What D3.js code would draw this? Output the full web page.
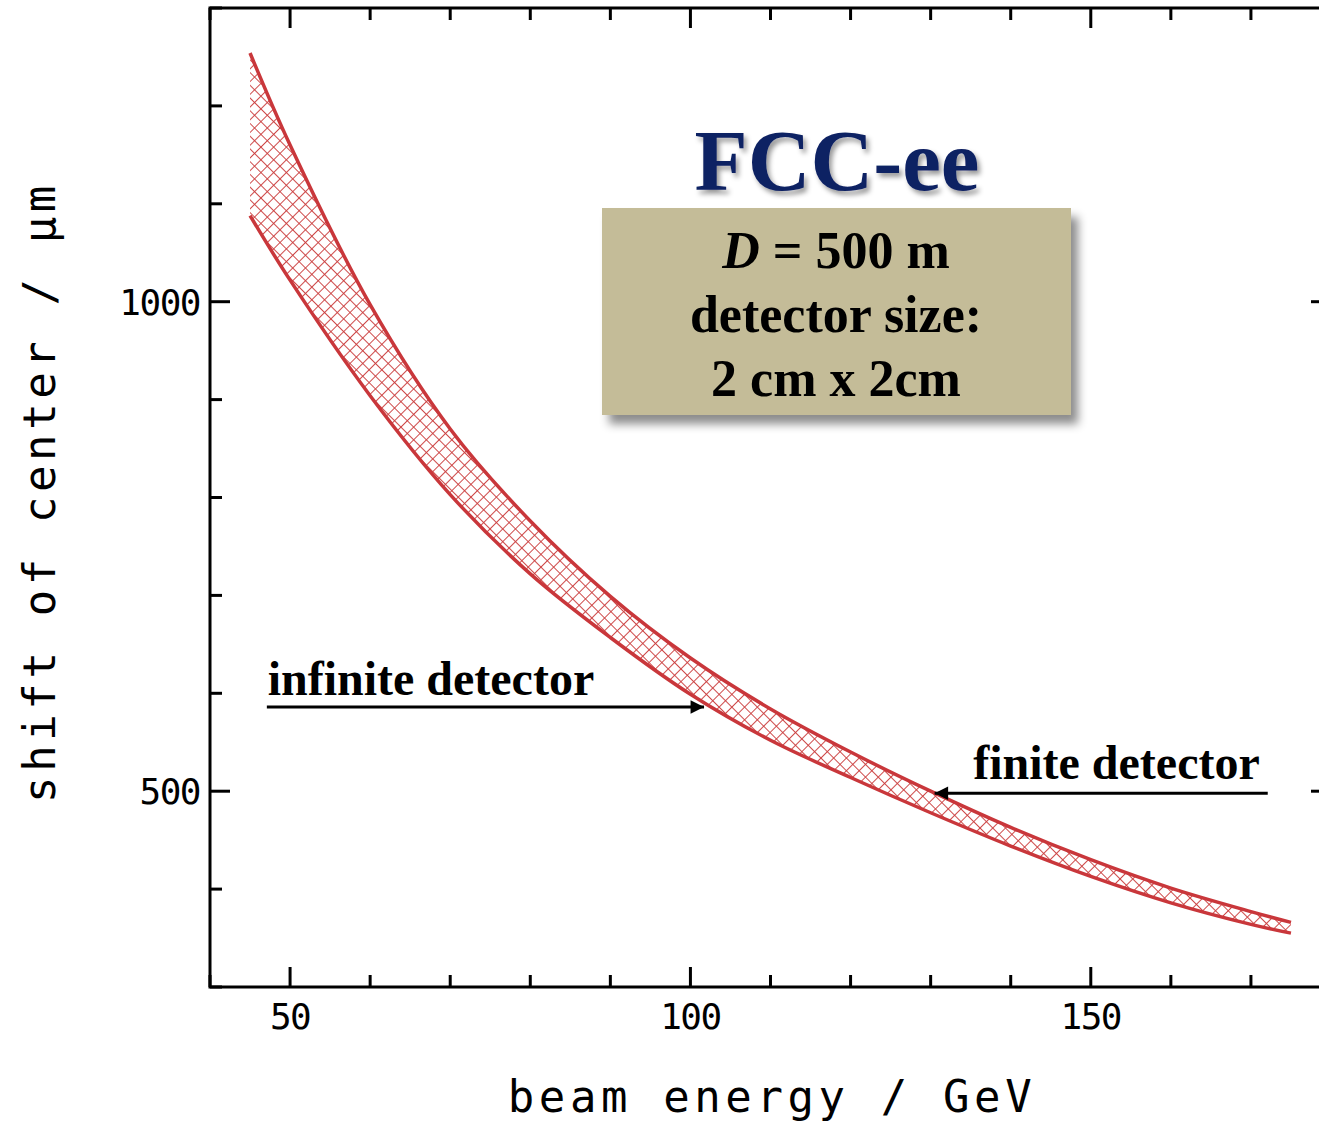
<!DOCTYPE html>
<html>
<head>
<meta charset="utf-8">
<script src="https://cdn.jsdelivr.net/npm/d3@7"></script>
<style>
  html, body { margin: 0; padding: 0; background: #fff; }
  svg { display: block; }
  .tick-label, .axis-title { font-family: "DejaVu Sans Mono", monospace; fill: #000; }
  .serif { font-family: "Liberation Serif", "Times New Roman", serif; font-weight: bold; }
</style>
</head>
<body>
<div id="chart"></div>
<script>
// beam energy (GeV) and shift of the centre (µm)
const energy = [45, 50, 60, 70, 80, 90, 100, 110, 120, 130, 140, 150, 160, 170, 175];
const finiteShift = [1254, 1160, 997, 870, 776, 699, 636, 584, 540, 500, 463, 430, 401, 377, 366];
const infiniteShift = [1088, 1022, 904, 803, 722, 657, 599, 552, 514, 478, 444, 413, 386, 364, 355];

const xMajor = [50, 100, 150];
const xMinor = [40, 60, 70, 80, 90, 110, 120, 130, 140, 160, 170, 180];
const yMajor = [500, 1000];
const yMinor = [300, 400, 600, 700, 800, 900, 1100, 1200, 1300];

const boxLines = ['D = 500 m', 'detector size:', '2 cm x 2cm'];

const width = 1319, height = 1121;
const plot = { left: 210, right: 1331, top: 8, bottom: 987 };

const x = d3.scaleLinear().domain([40, 180]).range([plot.left, plot.right]);
const y = d3.scaleLinear().domain([300, 1300]).range([plot.bottom, plot.top]);

const svg = d3.select('#chart').append('svg')
  .attr('width', width)
  .attr('height', height);

const defs = svg.append('defs');

const hatch = defs.append('pattern')
  .attr('id', 'hatch')
  .attr('patternUnits', 'userSpaceOnUse')
  .attr('width', 9)
  .attr('height', 9)
  .attr('patternTransform', 'rotate(45)');
hatch.append('line').attr('x1', 0).attr('y1', 0).attr('x2', 0).attr('y2', 9)
  .attr('stroke', '#cc4040').attr('stroke-width', 1.9);
hatch.append('line').attr('x1', 0).attr('y1', 0).attr('x2', 9).attr('y2', 0)
  .attr('stroke', '#cc4040').attr('stroke-width', 1.9);

const boxShadow = defs.append('filter').attr('id', 'boxShadow')
  .attr('x', '-10%').attr('y', '-10%').attr('width', '130%').attr('height', '140%');
boxShadow.append('feDropShadow')
  .attr('dx', 7).attr('dy', 9).attr('stdDeviation', 5)
  .attr('flood-color', '#000').attr('flood-opacity', 0.45);

const textShadow = defs.append('filter').attr('id', 'textShadow')
  .attr('x', '-10%').attr('y', '-20%').attr('width', '130%').attr('height', '150%');
textShadow.append('feDropShadow')
  .attr('dx', 3).attr('dy', 4).attr('stdDeviation', 2.5)
  .attr('flood-color', '#000').attr('flood-opacity', 0.4);

defs.append('marker')
  .attr('id', 'arrowHead')
  .attr('viewBox', '0 0 10 10')
  .attr('refX', 10).attr('refY', 5)
  .attr('markerWidth', 5.5).attr('markerHeight', 4.5)
  .attr('markerUnits', 'strokeWidth')
  .attr('orient', 'auto')
  .append('path').attr('d', 'M0,0L10,5L0,10Z').attr('fill', '#000');

// band between the two curves
const rows = energy.map((e, i) => ({ e, hi: finiteShift[i], lo: infiniteShift[i] }));
const curve = d3.curveCatmullRom.alpha(0.5);

const band = d3.area()
  .x(d => x(d.e))
  .y0(d => y(d.lo))
  .y1(d => y(d.hi))
  .curve(curve);

svg.append('path')
  .datum(rows)
  .attr('d', band)
  .attr('fill', 'url(#hatch)');

const lineHi = d3.line().x(d => x(d.e)).y(d => y(d.hi)).curve(curve);
const lineLo = d3.line().x(d => x(d.e)).y(d => y(d.lo)).curve(curve);

[lineHi, lineLo].forEach(gen => {
  svg.append('path')
    .datum(rows)
    .attr('d', gen)
    .attr('fill', 'none')
    .attr('stroke', '#c9373b')
    .attr('stroke-width', 3.5);
});

// frame
const frame = svg.append('g').attr('stroke', '#000').attr('stroke-width', 3).attr('fill', 'none');
frame.append('rect')
  .attr('x', plot.left).attr('y', plot.top)
  .attr('width', plot.right - plot.left).attr('height', plot.bottom - plot.top);

const ticks = svg.append('g').attr('stroke', '#000').attr('stroke-width', 3);
const xTicks = xMajor.map(v => ({ v, len: 20 })).concat(xMinor.map(v => ({ v, len: 12 })));
const yTicks = yMajor.map(v => ({ v, len: 20 })).concat(yMinor.map(v => ({ v, len: 12 })));

xTicks.forEach(t => {
  ticks.append('line').attr('x1', x(t.v)).attr('x2', x(t.v))
    .attr('y1', plot.bottom).attr('y2', plot.bottom - t.len);
  ticks.append('line').attr('x1', x(t.v)).attr('x2', x(t.v))
    .attr('y1', plot.top).attr('y2', plot.top + t.len);
});
yTicks.forEach(t => {
  ticks.append('line').attr('y1', y(t.v)).attr('y2', y(t.v))
    .attr('x1', plot.left).attr('x2', plot.left + t.len);
  ticks.append('line').attr('y1', y(t.v)).attr('y2', y(t.v))
    .attr('x1', plot.right).attr('x2', plot.right - t.len);
});

svg.selectAll('.x-label')
  .data(xMajor)
  .enter().append('text')
  .attr('class', 'tick-label')
  .attr('x', d => x(d))
  .attr('y', plot.bottom + 42)
  .attr('text-anchor', 'middle')
  .attr('font-size', 36)
  .attr('letter-spacing', -1.5)
  .text(d => d);

svg.selectAll('.y-label')
  .data(yMajor)
  .enter().append('text')
  .attr('class', 'tick-label')
  .attr('x', plot.left - 10)
  .attr('y', d => y(d) + 13)
  .attr('text-anchor', 'end')
  .attr('font-size', 36)
  .attr('letter-spacing', -1.5)
  .text(d => d);

svg.append('text')
  .attr('class', 'axis-title')
  .attr('x', 772)
  .attr('y', 1112)
  .attr('text-anchor', 'middle')
  .attr('font-size', 44)
  .attr('letter-spacing', 4.6)
  .text('beam energy / GeV');

svg.append('text')
  .attr('class', 'axis-title')
  .attr('transform', 'translate(55,492) rotate(-90)')
  .attr('text-anchor', 'middle')
  .attr('font-size', 44)
  .attr('letter-spacing', 4.6)
  .text('shift of center / μm');

// title and info box
svg.append('text')
  .attr('class', 'serif')
  .attr('x', 837).attr('y', 190)
  .attr('text-anchor', 'middle')
  .attr('font-size', 87)
  .attr('fill', '#0f2163')
  .attr('filter', 'url(#textShadow)')
  .text('FCC-ee');

svg.append('rect')
  .attr('x', 602).attr('y', 208)
  .attr('width', 469).attr('height', 207)
  .attr('fill', '#c4bc98')
  .attr('filter', 'url(#boxShadow)');

const boxText = svg.append('g').attr('class', 'serif').attr('font-size', 52).attr('text-anchor', 'middle');
boxLines.forEach((line, i) => {
  const t = boxText.append('text').attr('x', 836).attr('y', 268 + i * 64);
  if (i === 0) {
    t.append('tspan').attr('font-style', 'italic').text('D');
    t.append('tspan').text(line.slice(1));
  } else {
    t.text(line);
  }
});

// annotations
svg.append('text')
  .attr('class', 'serif')
  .attr('x', x(47.2)).attr('y', 695)
  .attr('font-size', 48)
  .text('infinite detector');
svg.append('line')
  .attr('x1', x(47.1)).attr('x2', x(101.7))
  .attr('y1', y(586)).attr('y2', y(586))
  .attr('stroke', '#000').attr('stroke-width', 3)
  .attr('marker-end', 'url(#arrowHead)');

svg.append('text')
  .attr('class', 'serif')
  .attr('x', x(171.1)).attr('y', 779)
  .attr('text-anchor', 'end')
  .attr('font-size', 48)
  .text('finite detector');
svg.append('line')
  .attr('x1', x(172.1)).attr('x2', x(130.5))
  .attr('y1', y(498)).attr('y2', y(498))
  .attr('stroke', '#000').attr('stroke-width', 3)
  .attr('marker-end', 'url(#arrowHead)');
</script>
</body>
</html>
